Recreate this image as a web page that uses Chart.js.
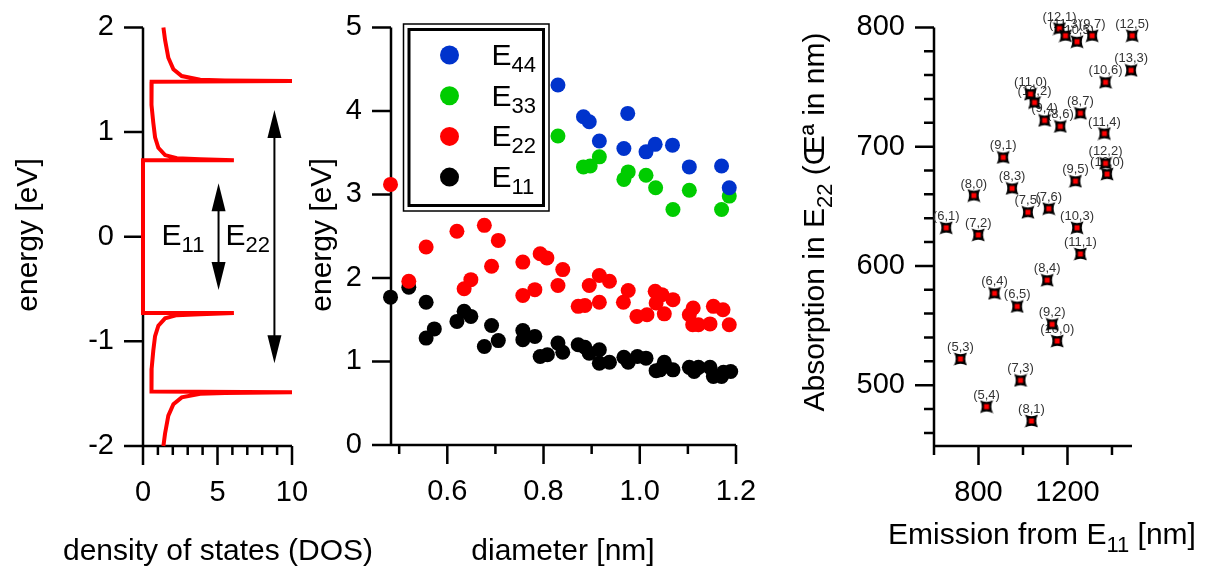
<!DOCTYPE html>
<html>
<head>
<meta charset="utf-8">
<title>Nanotube density of states and transition energies</title>
<script src="https://cdn.jsdelivr.net/npm/chart.js@4.4.1/dist/chart.umd.min.js"></script>
<style>
    html, body { margin: 0; padding: 0; background: #fff; }
    #wrap { position: relative; width: 1207px; height: 567px; }
    #wrap canvas { position: absolute; left: 0; top: 0; }
</style>
</head>
<body>
<div id="wrap">
    <canvas id="dos-chart" width="1207" height="567"></canvas>
    <canvas id="energy-chart" width="1207" height="567"></canvas>
    <canvas id="map-chart" width="1207" height="567"></canvas>
</div>
<script>
const FONT = "'Liberation Sans', Arial, Helvetica, sans-serif";

// left panel: density of states vs energy
const dosStates = [1.37, 1.48, 1.70, 2.04, 2.60, 3.84, 5.5, 10,
    0.58, 0.56, 0.58, 0.69, 0.81, 1.03, 1.48, 2.27, 3.84, 6.1,
    0, 0,
    6.1, 3.84, 2.27, 1.48, 1.03, 0.81, 0.69, 0.58, 0.56, 0.58,
    10, 5.5, 3.84, 2.60, 2.04, 1.70, 1.48, 1.37];
const dosEnergy = [2.00, 1.88, 1.71, 1.60, 1.535, 1.50, 1.493, 1.487,
    1.48, 1.40, 1.26, 1.09, 0.95, 0.85, 0.78, 0.75, 0.74, 0.73,
    0.73, -0.73,
    -0.73, -0.74, -0.75, -0.78, -0.85, -0.95, -1.09, -1.26, -1.40, -1.48,
    -1.487, -1.493, -1.50, -1.535, -1.60, -1.71, -1.88, -2.00];
const dosTicks = [0, 5, 10];
const dosMinorTicks = [1, 2, 3, 4, 6, 7, 8, 9];
const dosEnergyTicks = [-2, -1, 0, 1, 2];
// double arrows: position on the DOS axis and half height in eV
const gapArrowDos = [5.07, 8.82];
const gapArrowHalf = [0.51, 1.21];
const gapNames = ['11', '22'];

// middle panel: transition energies vs diameter
const seriesNames = ['E44', 'E33', 'E22', 'E11'];
const e44Diameter = [0.830, 0.883, 0.895, 0.975, 0.916, 0.967, 1.013, 1.032, 1.068, 1.103, 1.170, 1.186];
const e44Energy = [4.31, 3.93, 3.87, 3.97, 3.64, 3.55, 3.51, 3.60, 3.59, 3.33, 3.34, 3.08];
const e33Diameter = [0.830, 0.883, 0.897, 0.916, 0.976, 0.967, 1.013, 1.033, 1.069, 1.103, 1.170, 1.186];
const e33Energy = [3.70, 3.33, 3.34, 3.45, 3.27, 3.18, 3.23, 3.08, 2.82, 3.05, 2.82, 2.98];
const e22Diameter = [0.482, 0.520, 0.556, 0.620, 0.677, 0.706, 0.635, 0.649, 0.692, 0.757, 0.793, 0.807, 0.840,
    0.757, 0.782, 0.830, 0.872, 0.886, 0.895, 0.916, 0.937, 0.916, 0.966, 0.976, 0.994, 1.015, 1.032, 1.046,
    1.034, 1.051, 1.069, 1.103, 1.111, 1.110, 1.122, 1.146, 1.153, 1.173, 1.186];
const e22Energy = [3.12, 1.96, 2.37, 2.56, 2.63, 2.45, 1.87, 1.98, 2.14, 2.19, 2.29, 2.24, 2.10,
    1.79, 1.86, 1.91, 1.66, 1.67, 1.91, 2.03, 1.96, 1.71, 1.71, 1.85, 1.54, 1.56, 1.84, 1.80,
    1.70, 1.57, 1.74, 1.56, 1.64, 1.44, 1.44, 1.45, 1.66, 1.62, 1.44];
const e11Diameter = [0.482, 0.520, 0.556, 0.556, 0.573, 0.620, 0.635, 0.649, 0.677, 0.692,
    0.706, 0.757, 0.757, 0.782, 0.793, 0.808, 0.830, 0.840, 0.872, 0.886,
    0.895, 0.916, 0.916, 0.937, 0.967, 0.976, 0.995, 1.013, 1.034, 1.051,
    1.042, 1.069, 1.103, 1.113, 1.122, 1.146, 1.153, 1.170, 1.174, 1.189];
const e11Energy = [1.77, 1.89, 1.71, 1.28, 1.39, 1.48, 1.60, 1.54, 1.18, 1.43,
    1.25, 1.37, 1.26, 1.30, 1.06, 1.08, 1.22, 1.11, 1.20, 1.17,
    1.10, 1.14, 0.98, 0.99, 1.05, 0.99, 1.06, 1.04, 0.89, 0.99,
    0.90, 0.90, 0.93, 0.88, 0.93, 0.93, 0.82, 0.82, 0.87, 0.88];
const diameterTicks = [0.6, 0.8, 1.0, 1.2];
const diameterMinorTicks = [0.5, 0.7, 0.9, 1.1];
const energyTicks = [0, 1, 2, 3, 4, 5];

// right panel: absorption (E22) vs emission (E11) per chirality
const chirality = ['(12,1)', '(11,3)', '(10,5)', '(9,7)', '(12,5)', '(13,3)', '(10,6)', '(11,0)', '(10,2)', '(9,4)',
    '(8,6)', '(8,7)', '(11,4)', '(9,1)', '(12,2)', '(13,0)', '(9,5)', '(8,0)', '(8,3)', '(7,5)',
    '(7,6)', '(6,1)', '(7,2)', '(10,3)', '(11,1)', '(8,4)', '(6,4)', '(6,5)', '(9,2)', '(10,0)',
    '(5,3)', '(7,3)', '(5,4)', '(8,1)'];
const emissionNm = [1164, 1191, 1243, 1311, 1491, 1486, 1371, 1034, 1052, 1097,
    1168, 1258, 1366, 911, 1371, 1378, 1236, 779, 951, 1022,
    1116, 655, 799, 1243, 1258, 1109, 872, 974, 1131, 1154,
    719, 989, 836, 1038];
const absorptionNm = [799, 793, 788, 793, 793, 764, 754, 744, 737, 722,
    717, 728, 711, 691, 686, 677, 671, 659, 665, 645,
    648, 632, 626, 632, 610, 588, 577, 566, 551, 537,
    522, 504, 482, 470];
const emissionTicks = [800, 1200];
const emissionMinorTicks = [600, 1000, 1400];
const absorptionTicks = [500, 600, 700, 800];
const absorptionMinorTicks = [460, 480, 520, 540, 560, 580, 620, 640, 660, 680, 720, 740, 760, 780];

// text with alternating normal / subscript parts
function drawRich(ctx, parts, x, y, o) {
    const size = o.size || 30;
    const subSize = o.subSize || 22;
    const fontFor = (i) => (i % 2 ? subSize : size) + 'px ' + FONT;
    const widths = parts.map((t, i) => {
        ctx.font = fontFor(i);
        return ctx.measureText(t).width;
    });
    const total = widths.reduce((a, b) => a + b, 0);
    let cx = o.align === 'center' ? -total / 2 : 0;
    ctx.save();
    ctx.translate(x, y);
    if (o.rotate) {
        ctx.rotate(-Math.PI / 2);
    }
    ctx.textAlign = 'left';
    ctx.textBaseline = 'alphabetic';
    ctx.fillStyle = o.color || '#000';
    parts.forEach((t, i) => {
        ctx.font = fontFor(i);
        ctx.fillText(t, cx, i % 2 ? (o.subShift || 8) : 0);
        cx += widths[i];
    });
    ctx.restore();
}

// axis lines and tick marks (major long, minor short)
const axesPlugin = {
    id: 'axes',
    beforeDatasetsDraw(chart, args, o) {
        const ctx = chart.ctx;
        const a = chart.chartArea;
        const xs = chart.scales.x;
        const ys = chart.scales.y;
        ctx.save();
        ctx.strokeStyle = '#000';
        ctx.lineWidth = 2.5;
        ctx.beginPath();
        ctx.moveTo(a.left, a.top);
        ctx.lineTo(a.left, a.bottom);
        ctx.lineTo(a.right, a.bottom);
        (o.xMajor || []).forEach((v) => {
            const p = xs.getPixelForValue(v);
            ctx.moveTo(p, a.bottom);
            ctx.lineTo(p, a.bottom + 19);
        });
        (o.xMinor || []).forEach((v) => {
            const p = xs.getPixelForValue(v);
            ctx.moveTo(p, a.bottom);
            ctx.lineTo(p, a.bottom + 9);
        });
        (o.yMajor || []).forEach((v) => {
            const p = ys.getPixelForValue(v);
            ctx.moveTo(a.left - 19, p);
            ctx.lineTo(a.left, p);
        });
        (o.yMinor || []).forEach((v) => {
            const p = ys.getPixelForValue(v);
            ctx.moveTo(a.left - 10, p);
            ctx.lineTo(a.left, p);
        });
        ctx.stroke();
        ctx.restore();
    },
};

const titlesPlugin = {
    id: 'axisTitles',
    afterDraw(chart, args, o) {
        o.items.forEach((t) => {
            drawRich(chart.ctx, t.parts, t.x, t.y, { size: 30, subSize: 22, subShift: 8, align: 'center', rotate: t.rotate });
        });
    },
};

const gapArrowsPlugin = {
    id: 'gapArrows',
    afterDatasetsDraw(chart) {
        const ctx = chart.ctx;
        const xs = chart.scales.x;
        const ys = chart.scales.y;
        ctx.save();
        ctx.strokeStyle = '#000';
        ctx.fillStyle = '#000';
        ctx.lineWidth = 2;
        gapArrowDos.forEach((d, i) => {
            const px = xs.getPixelForValue(d);
            const top = ys.getPixelForValue(gapArrowHalf[i]);
            const bottom = ys.getPixelForValue(-gapArrowHalf[i]);
            ctx.beginPath();
            ctx.moveTo(px, top + 20);
            ctx.lineTo(px, bottom - 20);
            ctx.stroke();
            [[top, 1], [bottom, -1]].forEach(([tip, dir]) => {
                ctx.beginPath();
                ctx.moveTo(px, tip);
                ctx.lineTo(px - 7, tip + dir * 28);
                ctx.lineTo(px + 7, tip + dir * 28);
                ctx.closePath();
                ctx.fill();
            });
        });
        ctx.restore();
        // E11 to the left of the inner arrow, E22 to the right of it
        const mid = ys.getPixelForValue(0) + 8;
        drawRich(ctx, ['E', gapNames[0]], xs.getPixelForValue(gapArrowDos[0]) - 57, mid, { size: 30, subSize: 22, subShift: 7 });
        drawRich(ctx, ['E', gapNames[1]], xs.getPixelForValue(gapArrowDos[0]) + 7, mid, { size: 30, subSize: 22, subShift: 7 });
    },
};

const legendBoxPlugin = {
    id: 'legendBox',
    afterDatasetsDraw(chart, args, o) {
        const ctx = chart.ctx;
        ctx.save();
        ctx.fillStyle = '#fff';
        ctx.fillRect(o.left, o.top, o.width, o.height);
        ctx.strokeStyle = '#000';
        ctx.lineWidth = 1.5;
        ctx.strokeRect(o.left, o.top, o.width, o.height);
        ctx.lineWidth = 3;
        ctx.strokeRect(o.left + 5.5, o.top + 5.5, o.width - 11, o.height - 11);
        chart.data.datasets.forEach((ds, i) => {
            const cy = o.top + 31 + i * 40.7;
            ctx.fillStyle = ds.backgroundColor;
            ctx.beginPath();
            ctx.arc(o.left + 46, cy, 9.5, 0, Math.PI * 2);
            ctx.fill();
            drawRich(ctx, [ds.label.slice(0, 1), ds.label.slice(1)], o.left + 88, cy + 10, { size: 30, subSize: 22, subShift: 7 });
        });
        ctx.restore();
    },
};

const pointLabelsPlugin = {
    id: 'pointLabels',
    beforeDatasetsDraw(chart) {
        const ctx = chart.ctx;
        const meta = chart.getDatasetMeta(0);
        ctx.save();
        ctx.font = '13px ' + FONT;
        ctx.fillStyle = '#333';
        ctx.textAlign = 'center';
        ctx.textBaseline = 'alphabetic';
        meta.data.forEach((pt, i) => {
            ctx.fillText(chirality[i], pt.x, pt.y - 8);
        });
        ctx.restore();
    },
};

function starMarker() {
    const c = document.createElement('canvas');
    c.width = 14;
    c.height = 14;
    const g = c.getContext('2d');
    g.fillStyle = '#000';
    g.beginPath();
    g.moveTo(0.5, 0.5);
    g.quadraticCurveTo(7, 4, 13.5, 0.5);
    g.quadraticCurveTo(10, 7, 13.5, 13.5);
    g.quadraticCurveTo(7, 10, 0.5, 13.5);
    g.quadraticCurveTo(4, 7, 0.5, 0.5);
    g.fill();
    g.fillStyle = 'rgb(255, 0, 0)';
    g.fillRect(4.5, 4.5, 5, 5);
    return c;
}

const tickGrid = { display: true, drawOnChartArea: false, drawTicks: true, tickLength: 19, color: 'rgba(0,0,0,0)' };
const tickFont = { family: FONT, size: 29 };
const useTicks = (values) => (scale) => {
    scale.ticks = values.map((v) => ({ value: v }));
};
const pairs = (xs, ys) => xs.map((v, i) => ({ x: v, y: ys[i] }));
const plainLabel = (v) => String(v);

const baseOptions = {
    responsive: false,
    animation: false,
    events: [],
};

new Chart(document.getElementById('dos-chart'), {
    type: 'scatter',
    data: {
        datasets: [
            {
                data: pairs(dosStates, dosEnergy),
                showLine: true,
                borderColor: 'rgb(255, 0, 0)',
                borderWidth: 4,
                pointRadius: 0,
                clip: false,
            },
        ],
    },
    options: {
        ...baseOptions,
        layout: { padding: { left: 0, right: 915, top: 23, bottom: 0 } },
        plugins: {
            legend: { display: false },
            tooltip: { enabled: false },
            axes: { xMajor: dosTicks, xMinor: dosMinorTicks, yMajor: dosEnergyTicks },
            axisTitles: {
                items: [
                    { parts: ['density of states (DOS)'], x: 218, y: 560 },
                    { parts: ['energy [eV]'], x: 37, y: 235, rotate: true },
                ],
            },
        },
        scales: {
            x: {
                type: 'linear',
                min: 0,
                max: 10,
                afterBuildTicks: useTicks(dosTicks),
                afterFit: (s) => { s.height = 121; },
                grid: tickGrid,
                border: { display: false },
                ticks: { font: tickFont, color: '#000', padding: 11, maxRotation: 0, autoSkip: false, callback: plainLabel },
            },
            y: {
                type: 'linear',
                min: -2,
                max: 2,
                afterBuildTicks: useTicks(dosEnergyTicks),
                afterFit: (s) => { s.width = 143; },
                grid: tickGrid,
                border: { display: false },
                ticks: { font: tickFont, color: '#000', padding: 10, autoSkip: false, callback: plainLabel },
            },
        },
    },
    plugins: [axesPlugin, titlesPlugin, gapArrowsPlugin],
});

const seriesColors = ['rgb(0, 51, 204)', 'rgb(0, 204, 0)', 'rgb(255, 0, 0)', 'rgb(0, 0, 0)'];
const seriesPoints = [
    pairs(e44Diameter, e44Energy),
    pairs(e33Diameter, e33Energy),
    pairs(e22Diameter, e22Energy),
    pairs(e11Diameter, e11Energy),
];

new Chart(document.getElementById('energy-chart'), {
    type: 'scatter',
    data: {
        datasets: seriesNames.map((name, i) => ({
            label: name,
            data: seriesPoints[i],
            backgroundColor: seriesColors[i],
            borderWidth: 0,
            pointRadius: 7.5,
            clip: false,
        })),
    },
    options: {
        ...baseOptions,
        layout: { padding: { left: 311, right: 471, top: 23, bottom: 0 } },
        plugins: {
            legend: { display: false },
            tooltip: { enabled: false },
            axes: { xMajor: diameterTicks, xMinor: diameterMinorTicks, yMajor: energyTicks },
            legendBox: { left: 403.5, top: 24, width: 145.5, height: 187 },
            axisTitles: {
                items: [
                    { parts: ['diameter [nm]'], x: 563, y: 560 },
                    { parts: ['energy [eV]'], x: 331, y: 235, rotate: true },
                ],
            },
        },
        scales: {
            x: {
                type: 'linear',
                min: 0.483,
                max: 1.2,
                afterBuildTicks: useTicks(diameterTicks),
                afterFit: (s) => { s.height = 122; },
                grid: tickGrid,
                border: { display: false },
                ticks: { font: tickFont, color: '#000', padding: 11, maxRotation: 0, autoSkip: false, callback: (v) => Number(v).toFixed(1) },
            },
            y: {
                type: 'linear',
                min: 0,
                max: 5,
                afterBuildTicks: useTicks(energyTicks),
                afterFit: (s) => { s.width = 80; },
                grid: tickGrid,
                border: { display: false },
                ticks: { font: tickFont, color: '#000', padding: 10, autoSkip: false, callback: plainLabel },
            },
        },
    },
    plugins: [axesPlugin, titlesPlugin, legendBoxPlugin],
});

new Chart(document.getElementById('map-chart'), {
    type: 'scatter',
    data: {
        datasets: [
            {
                label: 'E22 vs E11',
                data: pairs(emissionNm, absorptionNm),
                pointStyle: starMarker(),
                pointRadius: 7,
                clip: false,
            },
        ],
    },
    options: {
        ...baseOptions,
        layout: { padding: { left: 834, right: 75, top: 23, bottom: 0 } },
        plugins: {
            legend: { display: false },
            tooltip: { enabled: false },
            axes: { xMajor: emissionTicks, xMinor: emissionMinorTicks, yMajor: absorptionTicks, yMinor: absorptionMinorTicks },
            axisTitles: {
                items: [
                    { parts: ['Emission from E', '11', ' [nm]'], x: 1042, y: 544 },
                    { parts: ['Absorption in E', '22', ' (\u0152\u00aa in nm)'], x: 824, y: 222, rotate: true },
                ],
            },
        },
        scales: {
            x: {
                type: 'linear',
                min: 600,
                max: 1490,
                afterBuildTicks: useTicks(emissionTicks),
                afterFit: (s) => { s.height = 121; },
                grid: tickGrid,
                border: { display: false },
                ticks: { font: tickFont, color: '#000', padding: 11, maxRotation: 0, autoSkip: false, callback: plainLabel },
            },
            y: {
                type: 'linear',
                min: 449,
                max: 800,
                afterBuildTicks: useTicks(absorptionTicks),
                afterFit: (s) => { s.width = 100; },
                grid: tickGrid,
                border: { display: false },
                ticks: { font: tickFont, color: '#000', padding: 10, autoSkip: false, callback: plainLabel },
            },
        },
    },
    plugins: [axesPlugin, titlesPlugin, pointLabelsPlugin],
});
</script>
</body>
</html>
